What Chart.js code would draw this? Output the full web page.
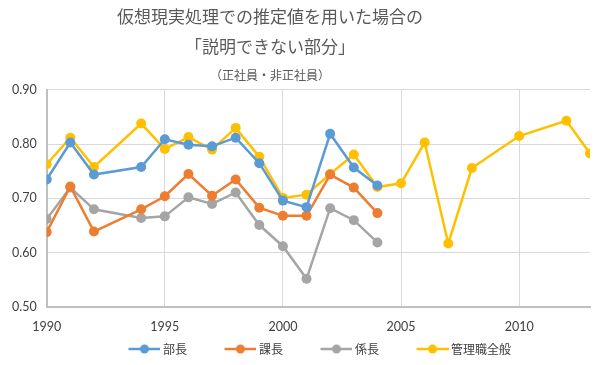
<!DOCTYPE html>
<html>
<head>
<meta charset="utf-8">
<script src="https://cdn.jsdelivr.net/npm/chart.js@4/dist/chart.umd.min.js"></script>
<style>
  html, body { margin: 0; padding: 0; background: #fff; }
  #wrap { width: 600px; height: 365px; }
</style>
</head>
<body>
<div id="wrap"><canvas id="chart"></canvas></div>
<script>
// 年（1993年、2009年、2011年はデータなし）
const yearsMgr = [1990, 1991, 1992, 1994, 1995, 1996, 1997, 1998, 1999, 2000, 2001, 2002, 2003, 2004];
const yearsAll = [1990, 1991, 1992, 1994, 1995, 1996, 1997, 1998, 1999, 2000, 2001, 2002, 2003, 2004,
                  2005, 2006, 2007, 2008, 2010, 2012, 2013];

const buchou  = [0.735, 0.803, 0.744, 0.758, 0.809, 0.799, 0.796, 0.812, 0.765, 0.696, 0.684, 0.819, 0.757, 0.724];
const kachou  = [0.638, 0.722, 0.639, 0.680, 0.704, 0.745, 0.705, 0.735, 0.683, 0.668, 0.668, 0.744, 0.720, 0.673];
const kakari  = [0.662, 0.720, 0.680, 0.664, 0.667, 0.702, 0.690, 0.711, 0.651, 0.612, 0.552, 0.682, 0.660, 0.619];
const kanri   = [0.763, 0.812, 0.758, 0.838, 0.791, 0.813, 0.790, 0.830, 0.777, 0.701, 0.707, 0.745, 0.781, 0.721,
                 0.728, 0.803, 0.617, 0.756, 0.815, 0.843, 0.783];

const seriesNames = ['部長', '課長', '係長', '管理職全般'];
const colors = ['#5B9BD5', '#ED7D31', '#A5A5A5', '#FFC000'];

const titleLines = ['仮想現実処理での推定値を用いた場合の', '「説明できない部分」'];
const subtitleText = '（正社員・非正社員）';

function toPoints(xs, ys) {
    return xs.map((x, i) => ({ x: x, y: ys[i] }));
}

// 凡例用の線＋丸マーカー（左側は透明にして項目間を空ける）
const legendBox = 58;
function legendIcon(color) {
    const c = document.createElement('canvas');
    c.width = legendBox + 7;
    c.height = 12;
    const g = c.getContext('2d');
    const x0 = c.width - 32;
    g.strokeStyle = color;
    g.lineWidth = 2.5;
    g.beginPath();
    g.moveTo(x0, 6);
    g.lineTo(c.width, 6);
    g.stroke();
    g.fillStyle = color;
    g.beginPath();
    g.arc(x0 + 16, 6, 4.5, 0, Math.PI * 2);
    g.fill();
    return c;
}
const icons = colors.map(legendIcon);

function makeDataset(i, xs, ys) {
    return {
        label: seriesNames[i],
        data: toPoints(xs, ys),
        borderColor: colors[i],
        backgroundColor: colors[i],
        borderWidth: 2.5,
        pointRadius: 5,
        pointHoverRadius: 5,
        pointBorderWidth: 0,
        tension: 0
    };
}

const tickFont = { family: 'Lato', size: 12.5 };
const jpFont = 'Noto Sans CJK JP';

// タイトルは中心を x=270 付近に、凡例は少し右へ
const shiftBoxes = {
    id: 'shiftBoxes',
    afterLayout(chart) {
        chart.boxes.forEach(b => {
            if (b instanceof Chart.Title._element) {
                b.left = -30;
                b.right = 570;
            }
        });
        chart.legend.left = 11;
        chart.legend.right = 599;
    }
};

new Chart(document.getElementById('chart'), {
    type: 'line',
    data: {
        datasets: [
            makeDataset(0, yearsMgr, buchou),
            makeDataset(1, yearsMgr, kachou),
            makeDataset(2, yearsMgr, kakari),
            makeDataset(3, yearsAll, kanri)
        ]
    },
    plugins: [shiftBoxes],
    options: {
        responsive: true,
        maintainAspectRatio: false,
        animation: false,
        layout: {
            padding: { left: 2, right: 10, top: 2, bottom: 0 }
        },
        plugins: {
            title: {
                display: true,
                text: titleLines,
                color: '#595959',
                font: { family: jpFont, size: 17, weight: 'normal', lineHeight: 30 / 17 },
                padding: { top: 0, bottom: 0 }
            },
            subtitle: {
                display: true,
                text: subtitleText,
                color: '#595959',
                font: { family: jpFont, size: 12, weight: 'normal', lineHeight: 1.2 },
                padding: { top: 6, bottom: 7.5 }
            },
            legend: {
                position: 'bottom',
                labels: {
                    usePointStyle: true,
                    pointStyleWidth: legendBox,
                    boxHeight: 12,
                    padding: 8,
                    color: '#404040',
                    font: { family: jpFont, size: 12 },
                    generateLabels: function(chart) {
                        const items = Chart.defaults.plugins.legend.labels.generateLabels(chart);
                        items.forEach((it, i) => { it.pointStyle = icons[i]; });
                        return items;
                    }
                }
            },
            tooltip: { enabled: false }
        },
        scales: {
            x: {
                type: 'linear',
                min: 1990,
                max: 2013,
                afterBuildTicks: function(axis) {
                    axis.ticks = axis.ticks.filter(t => t.value % 5 === 0);
                },
                afterFit: function(axis) {
                    axis.height -= 11;
                },
                ticks: {
                    stepSize: 5,
                    color: '#404040',
                    font: tickFont,
                    padding: 12,
                    maxRotation: 0,
                    callback: v => String(v)
                },
                grid: { color: '#d9d9d9', lineWidth: 1, drawTicks: false },
                border: { color: '#bfbfbf', width: 2 }
            },
            y: {
                min: 0.5,
                max: 0.9,
                ticks: {
                    stepSize: 0.1,
                    color: '#404040',
                    font: tickFont,
                    padding: 10,
                    callback: v => Number(v).toFixed(2)
                },
                grid: { color: '#d9d9d9', lineWidth: 1, drawTicks: false },
                border: { color: '#bfbfbf', width: 2 }
            }
        }
    }
});
</script>
</body>
</html>
